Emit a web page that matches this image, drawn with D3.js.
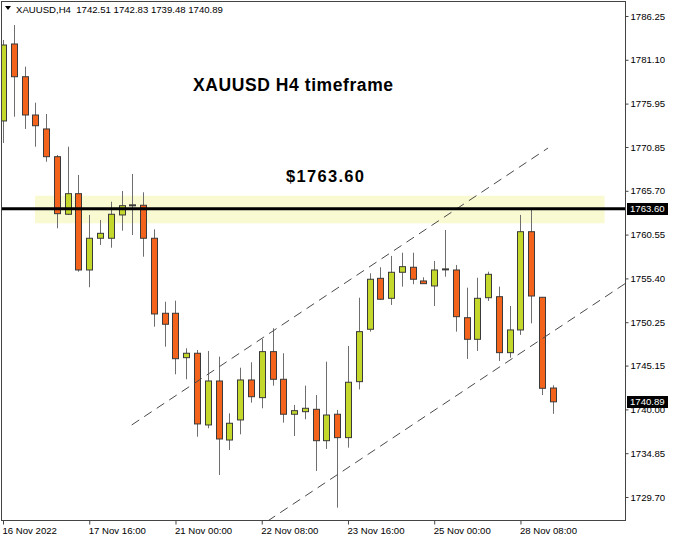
<!DOCTYPE html>
<html>
<head>
<meta charset="utf-8">
<script src="https://cdn.jsdelivr.net/npm/d3@7"></script>
<style>
  html, body { margin: 0; padding: 0; background: #fff; }
  svg { display: block; }
  .axis text { font-family: "Liberation Sans", Arial, sans-serif; font-size: 9.6px; fill: #000; }
</style>
</head>
<body>
<svg id="chart" width="674" height="539"></svg>
<script>
// XAUUSD H4 candles (bar index 0 = first visible bar)
const opens = [1773.91, 1782.96, 1779.11, 1774.61, 1772.97, 1769.71, 1762.94, 1765.36, 1756.39, 1760.12,
  1760.12, 1762.86, 1764.03, 1764.00, 1760.12, 1751.30, 1751.30, 1746.08, 1746.60, 1738.17,
  1743.34, 1736.40, 1738.76, 1743.46, 1741.38, 1746.79, 1743.54, 1739.43, 1739.73, 1740.01,
  1736.32, 1739.43, 1736.68, 1743.26, 1749.42, 1755.41, 1753.06, 1756.12, 1756.71, 1755.10,
  1754.51, 1756.47, 1756.39, 1750.78, 1748.24, 1753.13, 1753.25, 1746.67, 1749.34, 1760.89,
  1753.18, 1742.51];
const highs = [1783.43, 1785.19, 1780.29, 1776.06, 1774.73, 1769.91, 1770.88, 1767.56, 1762.86, 1762.27,
  1764.42, 1765.68, 1767.68, 1765.52, 1761.17, 1752.66, 1752.78, 1747.18, 1746.98, 1746.87,
  1746.20, 1739.54, 1744.90, 1745.54, 1748.28, 1749.54, 1746.60, 1740.52, 1742.79, 1741.69,
  1745.61, 1739.93, 1747.46, 1753.13, 1756.00, 1756.71, 1758.04, 1758.42, 1758.42, 1755.53,
  1757.45, 1761.09, 1756.98, 1754.31, 1755.48, 1756.19, 1754.43, 1752.16, 1762.86, 1763.60,
  1753.18, 1742.83];
const lows = [1771.32, 1774.41, 1772.97, 1770.88, 1769.12, 1761.29, 1762.86, 1756.19, 1754.36, 1759.33,
  1759.01, 1761.01, 1760.50, 1757.95, 1749.72, 1747.37, 1744.13, 1743.54, 1736.79, 1737.78,
  1732.29, 1735.23, 1737.07, 1740.79, 1740.13, 1742.79, 1738.44, 1736.87, 1738.84, 1732.76,
  1735.35, 1728.45, 1735.50, 1742.36, 1749.14, 1752.86, 1752.28, 1754.43, 1754.71, 1754.78,
  1752.16, 1755.60, 1749.14, 1745.93, 1746.87, 1752.75, 1745.69, 1746.08, 1748.75, 1750.12,
  1741.69, 1739.48];
const closes = [1782.84, 1779.11, 1774.61, 1773.35, 1769.71, 1763.01, 1765.36, 1756.39, 1760.12, 1760.70,
  1762.94, 1763.95, 1764.05, 1760.12, 1751.22, 1750.01, 1745.96, 1746.60, 1738.29, 1743.34,
  1736.52, 1738.37, 1743.46, 1741.49, 1746.79, 1743.54, 1739.43, 1739.85, 1740.13, 1736.32,
  1739.34, 1736.68, 1743.19, 1749.14, 1755.30, 1752.95, 1756.12, 1756.78, 1755.30, 1754.78,
  1756.39, 1756.52, 1750.90, 1748.24, 1753.06, 1755.88, 1746.67, 1749.34, 1760.89, 1753.33,
  1742.48, 1740.89];

// price scale labels
const priceTicks = [1786.25, 1781.10, 1775.95, 1770.85, 1765.70, 1760.55, 1755.40, 1750.25, 1745.15, 1740.00, 1734.85, 1729.70];
// time axis labels and the bars they sit on
const timeTickBars = [0, 8, 16, 24, 32, 40, 48];
const timeLabels = ["16 Nov 2022", "17 Nov 16:00", "21 Nov 00:00", "22 Nov 08:00", "23 Nov 16:00", "25 Nov 00:00", "28 Nov 08:00"];

// resistance level and the zone around it
const resistance = 1763.60;
const zoneBars = [2.97, 55.8];
const zonePrices = [1761.88, 1765.12];

// ascending channel: [bar, price] anchors
const channelUpper = [[11.94, 1738.17], [50.56, 1770.73]];
const channelLower = [[24.55, 1726.88], [57.7, 1754.78]];

const symbolInfo = "XAUUSD,H4";
const lastBar = 51;

const candles = opens.map((o, i) => ({ i, o, h: highs[i], l: lows[i], c: closes[i] }));

const svg = d3.select("#chart");
const frame = { left: 2, right: 626, top: 2, bottom: 521 };

const x = d3.scaleLinear().domain([0, lastBar]).range([3, 552.8]);
const y = d3.scaleLinear().domain([1729.70, 1786.25]).range([497, 16]);

svg.append("defs").append("clipPath").attr("id", "plot")
  .append("rect")
  .attr("x", frame.left).attr("y", frame.top)
  .attr("width", frame.right - frame.left).attr("height", frame.bottom - frame.top);

const plot = svg.append("g").attr("clip-path", "url(#plot)");

// zone
plot.append("rect")
  .attr("x", x(zoneBars[0])).attr("y", y(zonePrices[1]))
  .attr("width", x(zoneBars[1]) - x(zoneBars[0]))
  .attr("height", y(zonePrices[0]) - y(zonePrices[1]))
  .attr("fill", "#f9f9d2");

// candles
const bull = "#c4d82c", bear = "#f4631c";
const cg = plot.append("g");
const px = d => Math.round(x(d.i)) + 0.5;
cg.selectAll("line.wick").data(candles).join("line")
  .attr("class", "wick")
  .attr("x1", px).attr("x2", px)
  .attr("y1", d => y(d.h)).attr("y2", d => y(d.l))
  .attr("stroke", "#6e6e6e").attr("stroke-width", 1);
cg.selectAll("rect.body").data(candles).join("rect")
  .attr("class", "body")
  .attr("x", d => Math.round(x(d.i)) - 3 + 0.5)
  .attr("width", 6)
  .attr("y", d => y(Math.max(d.o, d.c)))
  .attr("height", d => Math.max(1, Math.abs(y(d.o) - y(d.c))))
  .attr("fill", d => d.c >= d.o ? bull : bear)
  .attr("stroke", "#3a3a3a").attr("stroke-width", 1);

// channel lines
const line = d3.line().x(d => x(d[0])).y(d => y(d[1]));
[channelUpper, channelLower].forEach(pts => {
  plot.append("path").attr("d", line(pts))
    .attr("fill", "none").attr("stroke", "#4a4a4a").attr("stroke-width", 1)
    .attr("stroke-dasharray", "9,6");
});

// resistance line
plot.append("line")
  .attr("x1", frame.left).attr("x2", frame.right)
  .attr("y1", y(resistance)).attr("y2", y(resistance))
  .attr("stroke", "#000").attr("stroke-width", 3);

// annotations
svg.append("text")
  .attr("x", 193).attr("y", 91)
  .attr("font-family", "Liberation Sans, Arial, sans-serif")
  .attr("font-weight", "bold").attr("font-size", 17.5)
  .attr("textLength", 200).attr("lengthAdjust", "spacing")
  .text("XAUUSD H4 timeframe");
svg.append("text")
  .attr("x", 286).attr("y", 182)
  .attr("font-family", "Liberation Sans, Arial, sans-serif")
  .attr("font-weight", "bold").attr("font-size", 16.5)
  .attr("textLength", 78).attr("lengthAdjust", "spacing")
  .text("$" + resistance.toFixed(2));

// frame
svg.append("rect")
  .attr("x", frame.left - 0.5).attr("y", frame.top - 0.5)
  .attr("width", frame.right - frame.left).attr("height", frame.bottom - frame.top)
  .attr("fill", "none").attr("stroke", "#444");

// price axis
const yAxis = svg.append("g").attr("class", "axis")
  .attr("transform", `translate(${frame.right - 0.5},0)`)
  .call(d3.axisRight(y).tickValues(priceTicks).tickFormat(d3.format(".2f")).tickSize(3).tickPadding(2));
yAxis.select(".domain").remove();
yAxis.selectAll(".tick line").attr("stroke", "#444");

// price tags for resistance and last close
const lastClose = closes[closes.length - 1];
[resistance, lastClose].forEach(p => {
  const g = svg.append("g").attr("transform", `translate(${frame.right},${Math.round(y(p))})`);
  g.append("rect").attr("x", 1).attr("y", -6).attr("width", 41).attr("height", 12).attr("fill", "#000");
  g.append("text").attr("x", 4).attr("y", 0).attr("dy", "0.35em")
    .attr("font-family", "Liberation Sans, Arial, sans-serif").attr("font-size", 9.6)
    .attr("fill", "#fff").text(p.toFixed(2));
});

// time axis
const xAxis = svg.append("g").attr("class", "axis")
  .attr("transform", `translate(0,${frame.bottom - 0.5})`)
  .call(d3.axisBottom(x).tickValues(timeTickBars).tickFormat((d, i) => timeLabels[i]).tickSize(4).tickPadding(3));
xAxis.select(".domain").remove();
xAxis.selectAll(".tick line").attr("stroke", "#444");
xAxis.selectAll(".tick text").attr("text-anchor", "start").attr("x", -1);

// header: symbol, timeframe and last bar OHLC
const last = candles[candles.length - 1];
svg.append("path").attr("d", "M5,6 L11,6 L8,10 Z").attr("fill", "#000");
svg.append("text")
  .attr("x", 16).attr("y", 13)
  .attr("font-family", "Liberation Sans, Arial, sans-serif").attr("font-size", 9.6)
  .attr("xml:space", "preserve")
  .text(`${symbolInfo}  ${last.o.toFixed(2)} ${last.h.toFixed(2)} ${last.l.toFixed(2)} ${last.c.toFixed(2)}`);
</script>
</body>
</html>
